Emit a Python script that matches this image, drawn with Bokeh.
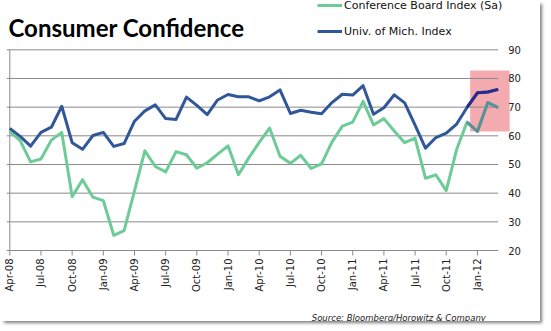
import math
from bokeh.plotting import figure
from bokeh.models import (Range1d, Label, Legend, LegendItem, BoxAnnotation, ColumnDataSource)
from bokeh.embed import file_html
from bokeh.resources import INLINE

months = ["Apr-08", "May-08", "Jun-08", "Jul-08", "Aug-08", "Sep-08", "Oct-08", "Nov-08", "Dec-08",
          "Jan-09", "Feb-09", "Mar-09", "Apr-09", "May-09", "Jun-09", "Jul-09", "Aug-09", "Sep-09",
          "Oct-09", "Nov-09", "Dec-09", "Jan-10", "Feb-10", "Mar-10", "Apr-10", "May-10", "Jun-10",
          "Jul-10", "Aug-10", "Sep-10", "Oct-10", "Nov-10", "Dec-10", "Jan-11", "Feb-11", "Mar-11",
          "Apr-11", "May-11", "Jun-11", "Jul-11", "Aug-11", "Sep-11", "Oct-11", "Nov-11", "Dec-11",
          "Jan-12", "Feb-12", "Mar-12"]

conference_board = [61.5, 58.3, 50.9, 51.9, 58.5, 61.2, 38.8, 44.7, 38.6, 37.4, 25.3, 26.9,
                    40.8, 54.8, 49.3, 47.4, 54.5, 53.4, 48.7, 50.6, 53.6, 56.5, 46.4, 52.3,
                    57.7, 62.7, 52.9, 50.4, 53.2, 48.6, 50.2, 57.8, 63.4, 64.8, 72.0, 63.8,
                    66.0, 61.7, 57.6, 59.2, 45.2, 46.4, 40.9, 55.2, 64.8, 61.5, 71.6, 69.8]

univ_michigan = [62.6, 59.8, 56.4, 61.2, 63.0, 70.3, 57.6, 55.3, 60.1, 61.2, 56.3, 57.3,
                 65.1, 68.7, 70.8, 66.0, 65.7, 73.5, 70.6, 67.4, 72.5, 74.4, 73.6, 73.6,
                 72.2, 73.6, 76.0, 67.8, 68.9, 68.2, 67.7, 71.6, 74.5, 74.2, 77.5, 67.5,
                 69.8, 74.3, 71.5, 63.7, 55.7, 59.4, 60.9, 64.1, 69.9, 75.0, 75.3, 76.2]

y_ticks = [20, 30, 40, 50, 60, 70, 80, 90]
y_tick_labels = [str(v) for v in y_ticks]
label_every = 3
highlight_start = 44          # first month drawn inside the highlight box
highlight_x = [44.3, 48.1]    # box extent, month index
highlight_y = [61.5, 82.8]    # box extent, index value

idx = list(range(len(months)))
n_last = idx[-1]
x_ticks = idx[::label_every]
x_tick_labels = [months[i] for i in x_ticks]

# ---- layout constants (pixels) ----
W, H = 540, 321
PLOT_LEFT, PLOT_RIGHT = 9.3, 497.7
PLOT_TOP, PLOT_BOTTOM = 49.3, 250
px_x = (PLOT_RIGHT - PLOT_LEFT) / n_last
px_y = (PLOT_BOTTOM - PLOT_TOP) / (y_ticks[-1] - y_ticks[0])
x_lo = -PLOT_LEFT / px_x
x_hi = n_last + (W - PLOT_RIGHT) / px_x
y_hi = y_ticks[-1] + PLOT_TOP / px_y
y_lo = y_ticks[0] - (H - PLOT_BOTTOM) / px_y

BLUE = "#30579A"
GREEN = "#6CCB97"
GRID = "#8A8A8A"
TXT = "#222222"
FONT = {"value": "DejaVu Sans"}

p = figure(width=W, height=H, output_backend="svg", toolbar_location=None,
           x_range=Range1d(x_lo, x_hi), y_range=Range1d(y_lo, y_hi),
           x_axis_location=None, y_axis_location=None,
           min_border_left=0, min_border_right=0, min_border_top=0, min_border_bottom=0)
p.title = None
p.outline_line_color = None
p.background_fill_color = "white"
p.border_fill_color = "white"
p.grid.grid_line_color = None
p.styles = {"box-shadow": "3px 3px 3px -1px rgba(0,0,0,0.5)"}

# highlight box
box = BoxAnnotation(left=highlight_x[0], right=highlight_x[1],
                    bottom=highlight_y[0], top=highlight_y[1],
                    fill_color="#F2A2A6", fill_alpha=0.9, line_color=None, level="underlay")
p.add_layout(box)

ny = len(y_ticks)
nx = len(x_ticks)
# horizontal grid lines
p.segment(x0=[idx[0]] * ny, x1=[n_last] * ny, y0=y_ticks, y1=y_ticks,
          line_color=GRID, line_width=1)
# left axis line + ticks
p.segment(x0=[idx[0]], x1=[idx[0]], y0=[y_ticks[0]], y1=[y_ticks[-1]],
          line_color=GRID, line_width=1)
p.ray(x=[idx[0]] * ny, y=y_ticks, length=3, length_units="screen",
      angle=math.pi, line_color=GRID, line_width=1)
# bottom axis ticks
p.ray(x=x_ticks, y=[y_ticks[0]] * nx, length=5, length_units="screen",
      angle=-math.pi / 2, line_color=GRID, line_width=1)

# right value labels
p.text(x=[n_last] * ny, y=y_ticks, text=y_tick_labels, x_offset=10,
       text_baseline="middle", text_align="left", text_font_size="10px",
       text_color=TXT, text_font=FONT)
# bottom month labels (vertical)
p.text(x=x_ticks, y=[y_ticks[0]] * nx, text=x_tick_labels, angle=math.pi / 2,
       y_offset=8, text_align="right", text_baseline="middle", text_font_size="10px",
       text_color=TXT, text_font=FONT)

src = ColumnDataSource(dict(x=idx, cb=conference_board, um=univ_michigan))
r_cb = p.line("x", "cb", source=src, line_color=GREEN, line_width=3, line_join="round")
r_um = p.line("x", "um", source=src, line_color=BLUE, line_width=3, line_join="round")

# tinted parts inside the highlight box
hs = slice(highlight_start, None)
p.line(idx[hs], conference_board[hs], line_color="#5F8E98", line_width=3, line_join="round")
p.line(idx[hs], univ_michigan[hs], line_color="#2B2A8E", line_width=3, line_join="round")

legend = Legend(items=[LegendItem(label="Conference Board Index (Sa)", renderers=[r_cb]),
                       LegendItem(label="Univ. of Mich. Index", renderers=[r_um])],
                location=(317, 280), orientation="vertical",
                glyph_width=25, glyph_height=20, label_height=20, spacing=6,
                label_standoff=2, padding=0, margin=0,
                border_line_color=None, background_fill_alpha=0,
                label_text_font="DejaVu Sans", label_text_font_size="11px",
                label_text_color="#111111")
p.add_layout(legend)

p.add_layout(Label(x=8, y=294, x_units="screen", y_units="screen",
                   text="Consumer Confidence", text_font="Lato", text_font_style="bold",
                   text_font_size="24px", text_color="#000000", text_baseline="alphabetic"))

p.add_layout(Label(x=488, y=4, x_units="screen", y_units="screen",
                   text="Source: Bloomberg/Horowitz  & Company", text_font="DejaVu Sans",
                   text_font_style="italic", text_font_size="8.5px", text_color=TXT,
                   text_align="right", text_baseline="alphabetic"))

open("out.html", "w").write(file_html(p, INLINE))
